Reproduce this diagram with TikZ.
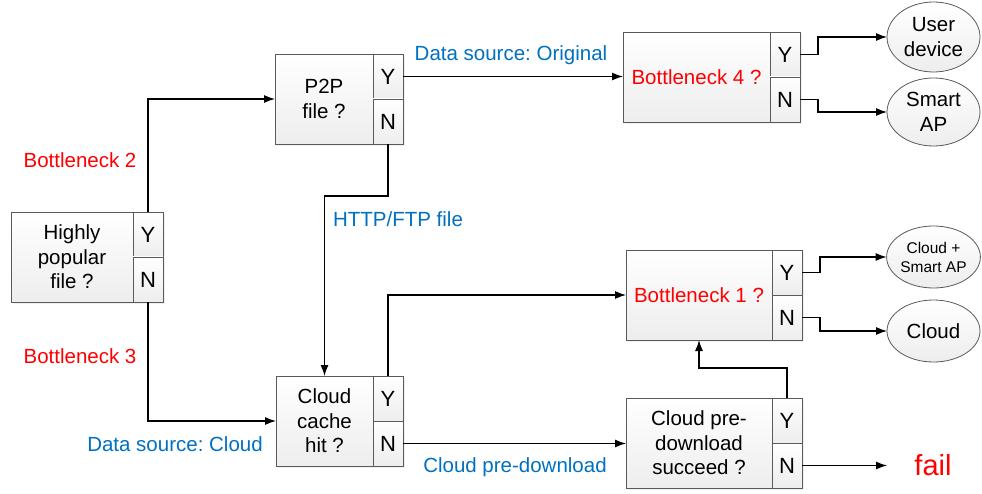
\documentclass[tikz,border=0pt]{standalone}
\usepackage{fontspec}
\setmainfont{Liberation Sans}
\usetikzlibrary{arrows.meta,shapes.geometric,shadows}
\definecolor{boxline}{RGB}{90,90,90}
\definecolor{lblue}{RGB}{0,112,192}
\definecolor{lred}{RGB}{255,0,0}
\frenchspacing
\begin{document}
\begin{tikzpicture}[x=1pt,y=-1pt,
  every node/.style={font=\fontsize{20.5}{24.5}\selectfont\frenchspacing, inner sep=0pt, outer sep=0pt},
  fillstyle/.style={draw=boxline, line width=0.8pt, top color=white, bottom color=gray!14},
  decbox/.style={fillstyle, anchor=north west, minimum height=90pt, align=center,
    drop shadow={shadow xshift=2pt, shadow yshift=-2pt, opacity=0.12}},
  cellbox/.style={fillstyle, anchor=north west, minimum width=30pt, minimum height=45pt,
    font=\fontsize{22}{24}\selectfont,
    drop shadow={shadow xshift=2pt, shadow yshift=-2pt, opacity=0.12}},
  endnode/.style={ellipse, fillstyle, minimum width=93pt, align=center},
  arr/.style={line width=1.2pt, -{Latex[length=11pt,width=8pt]}},
  redlbl/.style={text=lred},
  bluelbl/.style={text=lblue},
]
\useasboundingbox (0,0) rectangle (982,494);

% decision boxes
\node[decbox, minimum width=122pt] (A) at (11,212) {Highly\\popular\\file ?};
\node[cellbox] (AY) at (A.north east) {Y};
\node[cellbox] (AN) at (AY.south west) {N};

\node[decbox, minimum width=98pt] (B) at (275,54) {P2P\\file ?};
\node[cellbox] (BY) at (B.north east) {Y};
\node[cellbox] (BN) at (BY.south west) {N};

\node[decbox, minimum width=147pt, text=lred] (C) at (623,32) {Bottleneck 4 ?};
\node[cellbox] (CY) at (C.north east) {Y};
\node[cellbox] (CN) at (CY.south west) {N};

\node[decbox, minimum width=146pt, text=lred] (D) at (626,250) {Bottleneck 1 ?};
\node[cellbox] (DY) at (D.north east) {Y};
\node[cellbox] (DN) at (DY.south west) {N};

\node[decbox, minimum width=97pt] (E) at (276,376) {Cloud\\cache\\hit ?};
\node[cellbox] (EY) at (E.north east) {Y};
\node[cellbox] (EN) at (EY.south west) {N};

\node[decbox, minimum width=146pt] (F) at (626,398) {Cloud pre-\\download\\succeed ?};
\node[cellbox] (FY) at (F.north east) {Y};
\node[cellbox] (FN) at (FY.south west) {N};

% end nodes
\node[endnode, minimum height=70pt] (ud) at (933.5,37) {User\\device};
\node[endnode, minimum height=68pt] (sap) at (933.5,112) {Smart\\AP};
\node[endnode, minimum height=62pt, font=\fontsize{15.5}{19}\selectfont] (csap) at (933.5,257) {Cloud +\\Smart AP};
\node[endnode, minimum height=62pt] (cl) at (933.5,331) {Cloud};
\node[text=lred, font=\fontsize{29}{29}\selectfont] (fail) at (933,465) {fail};
\coordinate (failin) at (887,466);

% labels
\node[redlbl] (bn2) at (80,160) {Bottleneck 2};
\node[redlbl] (bn3) at (80,356) {Bottleneck 3};
\node[bluelbl] (dso) at (511,55) {Data source: Original};
\node[bluelbl] (http) at (398,219) {HTTP/FTP file};
\node[bluelbl] (dsc) at (175,444) {Data source: Cloud};
\node[bluelbl] (cpd) at (515,467) {Cloud pre-download};

% connectors
\draw[arr] (AY.north) |- (B.west);
\draw[arr] (AN.south) |- (E.west);
\draw[arr] (BY.east) -- (BY.east -| C.west);
\draw[arr] (BN.south) -- ++(0,52) -| (E.north);
\draw[arr] (EY.north) |- (D.west);
\draw[arr] (EN.east) -- (EN.east -| F.west);
\draw[arr] (FY.north) -- ++(0,-30) -| (D.south);
\draw[arr] (FN.east) -- (FN.east -| failin);
\draw[arr] (CY.east) -- ++(18,0) |- (ud.west);
\draw[arr] (CN.east) -- ++(18,0) |- (sap.west);
\draw[arr] (DY.east) -- ++(18,0) |- (csap.west);
\draw[arr] (DN.east) -- ++(18,0) |- (cl.west);
\end{tikzpicture}
\end{document}
